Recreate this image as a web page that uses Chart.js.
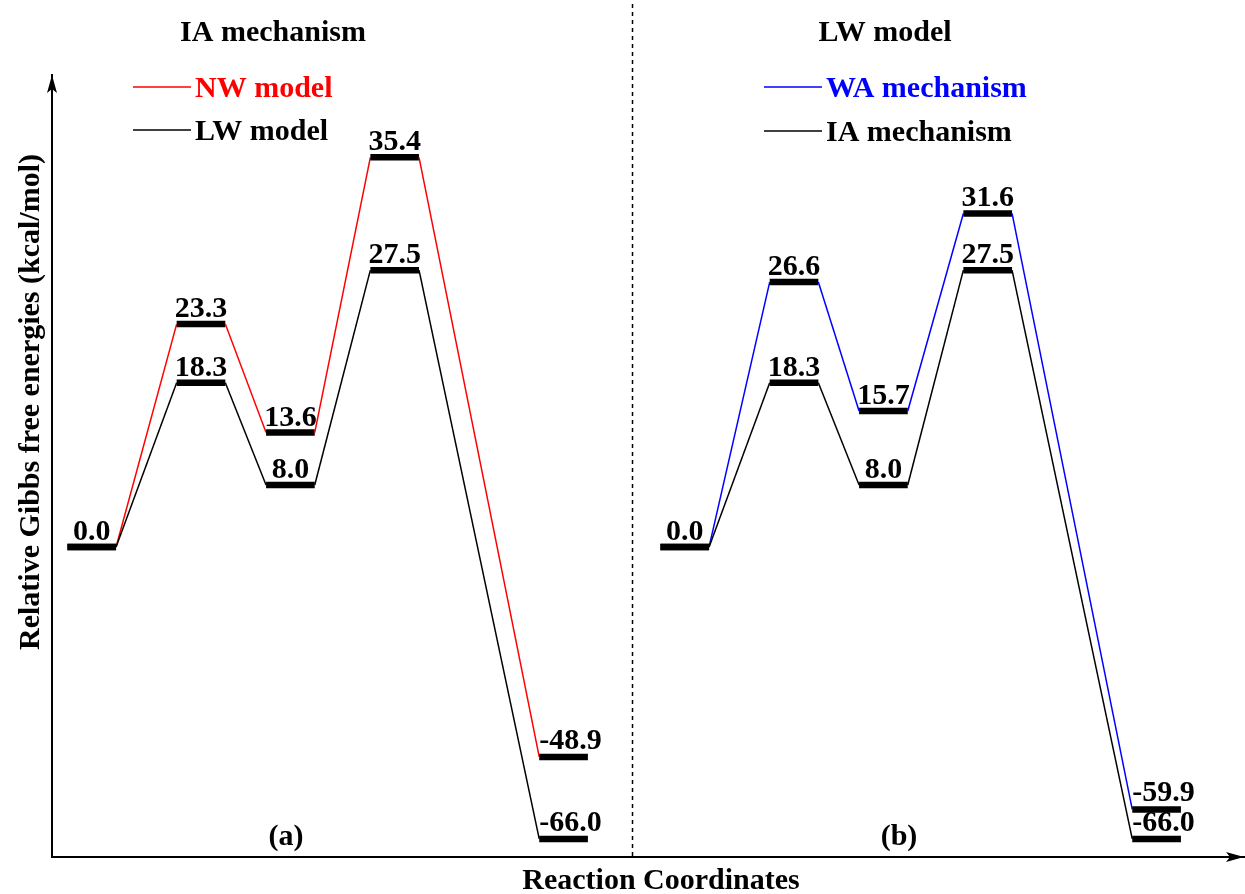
<!DOCTYPE html>
<html lang="en">
<head>
<meta charset="UTF-8">
<title>Relative Gibbs free energies</title>
<script src="https://cdn.jsdelivr.net/npm/chart.js"></script>
<style>
    html, body {
        margin: 0;
        padding: 0;
        background: #fff;
    }
    #wrap {
        width: 1245px;
        height: 894px;
    }
</style>
</head>
<body>
<div id="wrap"><canvas id="profile" width="1245" height="894"></canvas></div>
<script>
// reaction coordinate of the stationary points (R, TS1, IM, TS2, P)
const stages = [0.4, 1.5, 2.4, 3.45, 5.15];
// panel (b) is the same path moved right along the coordinate
const panelShift = 5.97;
const dividerAt = 5.84;

// panel (a): IA mechanism
const nwModel = [0.0, 23.3, 13.6, 35.4, -48.9];
const lwModel = [0.0, 18.3, 8.0, 27.5, -66.0];
// panel (b): LW model
const waMechanism = [0.0, 26.6, 15.7, 31.6, -59.9];
const iaMechanism = [0.0, 18.3, 8.0, 27.5, -66.0];

const FONT = '"Liberation Serif", "Times New Roman", serif';
const halfWidth = 0.245;

// the figure is schematic, not to scale: barriers are drawn stretched
// and the deep product wells squeezed
function stretch(v) {
    return v >= 0 ? 6.79 * v + 0.119 * v * v : -2.9215 * Math.pow(-v, 1.099);
}

class SchematicScale extends Chart.LinearScale {
    static id = 'schematic';
    static defaults = {};
    getPixelForValue(value) {
        const lo = stretch(this.min), hi = stretch(this.max);
        return this.getPixelForDecimal((stretch(value) - lo) / (hi - lo));
    }
    getValueForPixel(pixel) {
        // bisection, only used by interactions
        let a = this.min, b = this.max;
        for (let i = 0; i < 40; i++) {
            const m = (a + b) / 2;
            if (this.getPixelForValue(m) > pixel) a = m; else b = m;
        }
        return (a + b) / 2;
    }
}
Chart.register(SchematicScale);

function profilePoints(energies, shift) {
    const pts = [];
    energies.forEach((e, i) => {
        pts.push({x: stages[i] + shift - halfWidth, y: e});
        pts.push({x: stages[i] + shift + halfWidth, y: e});
    });
    return pts;
}

function profileDataset(label, energies, shift, color) {
    return {
        label: label,
        data: profilePoints(energies, shift),
        energies: energies,
        borderColor: color,
        pointRadius: 0,
        tension: 0,
        fill: false,
        segment: {
            // even segments are the levels, odd ones the connectors
            borderColor: ctx => ctx.p0DataIndex % 2 === 0 ? '#000' : color,
            borderWidth: ctx => ctx.p0DataIndex % 2 === 0 ? 6.5 : 1.5
        }
    };
}

const levelLabels = {
    id: 'levelLabels',
    afterDatasetsDraw(chart) {
        const ctx = chart.ctx;
        const done = new Set();
        ctx.save();
        ctx.font = 'bold 30px ' + FONT;
        ctx.fillStyle = '#000';
        ctx.textBaseline = 'alphabetic';
        chart.data.datasets.forEach((ds, di) => {
            const meta = chart.getDatasetMeta(di);
            ds.energies.forEach((e, i) => {
                const p0 = meta.data[2 * i], p1 = meta.data[2 * i + 1];
                const key = Math.round(p0.x) + ':' + Math.round(p0.y);
                if (done.has(key)) return;
                done.add(key);
                const text = e.toFixed(1);
                if (e < 0) {
                    ctx.textAlign = 'left';
                    ctx.fillText(text, p0.x, p0.y - 8);
                } else {
                    ctx.textAlign = 'center';
                    ctx.fillText(text, (p0.x + p1.x) / 2, p0.y - 7);
                }
            });
        });
        ctx.restore();
    }
};

function legendItem(ctx, x, y, color, text) {
    ctx.strokeStyle = color;
    ctx.lineWidth = 1.5;
    ctx.beginPath();
    ctx.moveTo(x, y);
    ctx.lineTo(x + 58, y);
    ctx.stroke();
    ctx.fillStyle = color;
    ctx.textAlign = 'left';
    ctx.fillText(text, x + 62, y + 10);
}

const decorations = {
    id: 'decorations',
    afterDraw(chart) {
        const ctx = chart.ctx;
        const area = chart.chartArea;
        const xs = chart.scales.x;
        ctx.save();

        // panel divider
        const dx = Math.round(xs.getPixelForValue(dividerAt)) + 0.5;
        ctx.strokeStyle = '#000';
        ctx.lineWidth = 1.5;
        ctx.setLineDash([4, 4]);
        ctx.beginPath();
        ctx.moveTo(dx, 4);
        ctx.lineTo(dx, area.bottom);
        ctx.stroke();
        ctx.setLineDash([]);

        // arrow heads
        ctx.fillStyle = '#000';
        ctx.beginPath();
        ctx.moveTo(area.left, area.top);
        ctx.lineTo(area.left - 5, area.top + 18);
        ctx.lineTo(area.left, area.top + 14);
        ctx.lineTo(area.left + 5, area.top + 18);
        ctx.closePath();
        ctx.fill();
        ctx.beginPath();
        ctx.moveTo(area.right, area.bottom);
        ctx.lineTo(area.right - 18, area.bottom - 5);
        ctx.lineTo(area.right - 14, area.bottom);
        ctx.lineTo(area.right - 18, area.bottom + 5);
        ctx.closePath();
        ctx.fill();

        ctx.font = 'bold 30px ' + FONT;
        ctx.textBaseline = 'alphabetic';
        ctx.fillStyle = '#000';

        // panel titles and tags
        ctx.textAlign = 'center';
        ctx.fillText('IA mechanism', 273, 41);
        ctx.fillText('LW model', 885, 41);
        ctx.fillText('(a)', 286, 845);
        ctx.fillText('(b)', 899, 845);

        // legends
        legendItem(ctx, 133, 87, '#ff0000', 'NW model');
        legendItem(ctx, 133, 130, '#000000', 'LW model');
        legendItem(ctx, 764, 87, '#0000ff', 'WA mechanism');
        legendItem(ctx, 764, 131, '#000000', 'IA mechanism');

        // axis titles
        ctx.fillStyle = '#000';
        ctx.textAlign = 'center';
        ctx.fillText('Reaction Coordinates', 661, 889);
        ctx.translate(39, 402);
        ctx.rotate(-Math.PI / 2);
        ctx.fillText('Relative Gibbs free energies (kcal/mol)', 0, 0);
        ctx.restore();
    }
};

new Chart(document.getElementById('profile'), {
    type: 'line',
    data: {
        datasets: [
            profileDataset('LW model', lwModel, 0, '#000000'),
            profileDataset('NW model', nwModel, 0, '#ff0000'),
            profileDataset('IA mechanism', iaMechanism, panelShift, '#000000'),
            profileDataset('WA mechanism', waMechanism, panelShift, '#0000ff')
        ]
    },
    options: {
        responsive: false,
        animation: false,
        events: [],
        layout: {
            padding: {left: 52, top: 75, right: 1, bottom: 37}
        },
        plugins: {
            legend: {display: false},
            tooltip: {enabled: false}
        },
        scales: {
            x: {
                type: 'linear',
                min: 0,
                max: 12,
                ticks: {display: false},
                grid: {display: false, drawTicks: false, tickLength: 0},
                border: {color: '#000', width: 2}
            },
            y: {
                type: 'schematic',
                min: -69.7,
                max: 40.6,
                ticks: {display: false},
                grid: {display: false, drawTicks: false, tickLength: 0},
                border: {color: '#000', width: 2}
            }
        }
    },
    plugins: [levelLabels, decorations]
});
</script>
</body>
</html>
